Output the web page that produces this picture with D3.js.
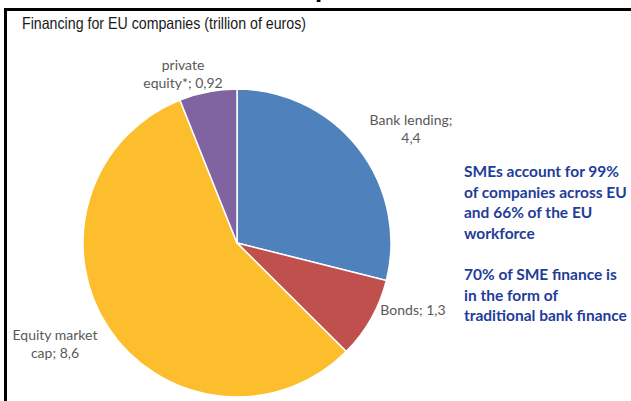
<!DOCTYPE html>
<html>
<head>
<meta charset="utf-8">
<script src="https://cdn.jsdelivr.net/npm/d3@7"></script>
<style>
  html, body { margin: 0; padding: 0; background: #fff; }
  svg { display: block; }
</style>
</head>
<body>
<svg id="chart" width="631" height="401"></svg>
<script>
// Financing sources for EU companies, trillion of euros
const categories = ["Bank lending", "Bonds", "Equity market cap", "private equity*"];
const values = [4.4, 1.3, 8.6, 0.92];
const valueLabels = ["4,4", "1,3", "8,6", "0,92"];
const colors = ["#4F81BD", "#C0504D", "#FDBE2D", "#8064A2"];

const title = "Financing for EU companies (trillion of euros)";
const noteLines = [
  "SMEs account for 99%",
  "of companies across EU",
  "and 66% of the EU",
  "workforce",
  "",
  "70% of SME finance is",
  "in the form of",
  "traditional bank finance"
];

const svg = d3.select("#chart");

// descender of the slide heading, clipped by the top edge
svg.append("text")
  .attr("x", 315).attr("y", -3)
  .attr("font-family", "Liberation Sans, Arial, sans-serif")
  .attr("font-weight", "bold")
  .attr("font-size", 26)
  .attr("fill", "#000")
  .text("p");

// frame: top and left border
svg.append("line").attr("x1", 4).attr("x2", 631).attr("y1", 9.5).attr("y2", 9.5)
  .attr("stroke", "#000").attr("stroke-width", 3);
svg.append("line").attr("x1", 5.5).attr("x2", 5.5).attr("y1", 8).attr("y2", 401)
  .attr("stroke", "#000").attr("stroke-width", 3);

svg.append("text")
  .attr("x", 22).attr("y", 28.5)
  .attr("font-family", "Liberation Sans, Arial, sans-serif")
  .attr("font-size", 16.5)
  .attr("textLength", 284)
  .attr("lengthAdjust", "spacingAndGlyphs")
  .attr("fill", "#1a1a1a")
  .text(title);

// pie
const cx = 237, cy = 243, r = 154;
const pie = d3.pie().sort(null).value(d => d)(values);
const arc = d3.arc().innerRadius(0).outerRadius(r);

const g = svg.append("g").attr("transform", `translate(${cx},${cy})`);
g.selectAll("path").data(pie).join("path")
  .attr("d", arc)
  .attr("fill", (d, i) => colors[i])
  .attr("stroke", "#fff")
  .attr("stroke-width", 1.5);

// data labels
const labelFont = "Lato, 'Open Sans', sans-serif";
const labelSpecs = [
  { lines: ["Bank lending;", valueLabels[0]], x: 411, y: 125 },
  { lines: ["Bonds; " + valueLabels[1]], x: 413, y: 315 },
  { lines: ["Equity market", "cap; " + valueLabels[2]], x: 55, y: 340 },
  { lines: ["private", "equity*; " + valueLabels[3]], x: 183, y: 70 }
];
labelSpecs.forEach(s => {
  const t = svg.append("text")
    .attr("font-family", labelFont)
    .attr("font-size", 14)
    .attr("fill", "#595959")
    .attr("text-anchor", "middle");
  s.lines.forEach((ln, k) => {
    t.append("tspan").attr("x", s.x).attr("y", s.y + k * 17.5).text(ln);
  });
});

// side note
const note = svg.append("text")
  .attr("font-family", labelFont)
  .attr("font-weight", "bold")
  .attr("font-size", 15.5)
  .attr("fill", "#1F3D99");
noteLines.forEach((ln, k) => {
  if (ln) note.append("tspan").attr("x", 464).attr("y", 177 + k * 20.6).text(ln);
});
</script>
</body>
</html>
